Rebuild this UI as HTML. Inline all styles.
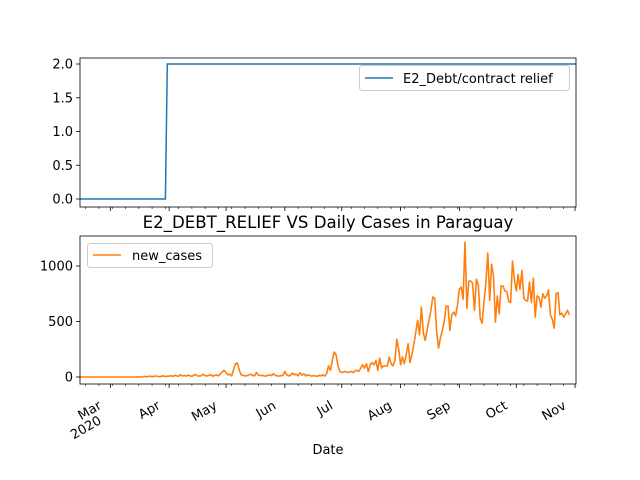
<!DOCTYPE html>
<html><head><meta charset="utf-8"><style>
body{margin:0;background:#fff}
svg{display:block;font-family:"DejaVu Sans","Liberation Sans",sans-serif}
</style></head><body>
<svg id="chart" width="640" height="480" viewBox="0 0 640 480">
<rect width="640" height="480" fill="#fff"/>
<g id="top"></g>
<g id="bot"></g>
<text x="328" y="228" text-anchor="middle" font-size="16.6">E2_DEBT_RELIEF VS Daily Cases in Paraguay</text>
<text x="328" y="454" text-anchor="middle" font-size="13">Date</text>
</svg>
<script>
// day index relative to 2020-03-01 (day 0)
const monthLabels = ["Mar","Apr","May","Jun","Jul","Aug","Sep","Oct","Nov"];
const monthDays = [0,31,61,92,122,153,184,214,245];
const policyDays = [-16,29,30,246];
const policyVals = [0,0,2,2];
const topTicks = [0,0.5,1.0,1.5,2.0];
const botTicks = [0,500,1000];
const casesStartDay = -16;
const casesFeb = [0,0,0,0,0,0,0,0,0,0,0,0,0,0,0,0,0,0,0,0,0,0,0,0,0,0,0,0,0,0,1,2,0,3,5,2,4,8,3,6,9,5,2,7,10,4,6];
const casesApr = [8,12,5,15,10,6,20,9,14,7,18,11,5,16,22,10,8,13,25,12,9,15,20,6,14,18,10,30,45,60];
const casesMay = [40,20,25,10,70,120,125,60,20,15,10,12,18,25,15,10,40,20,12,15,10,8,15,20,12,30,15,10,8,12,15];
const casesJun = [50,20,10,15,35,20,25,10,40,15,30,10,20,15,8,12,10,5,15,10,20,8,30,100,60,150,225,200,100,50];
const casesJul = [40,45,50,40,45,50,40,55,60,50,80,110,80,120,50,110,130,110,150,60,170,80,100,100,100,180,120,100,150,340,250];
const casesAugOn = [110,180,120,200,300,130,200,290,400,510,380,630,400,330,420,510,600,720,710,420,260,350,420,500,640,640,420,560,585,550,650,790,810,700,1215,620,865,865,845,600,880,830,530,485,675,850,1115,690,1015,910,495,730,570,820,820,775,770,680,670,1045,875,775,925,790,960,710,690,685,855,670,890,540,730,720,630,750,710,730,785,560,520,440,750,760,560,575,540,570,600,560];
const cases = [].concat(casesFeb,casesApr,casesMay,casesJun,casesJul,casesAugOn);

const NS="http://www.w3.org/2000/svg";
const X0=80,X1=576,D0=-16,D1=245.5;
const xs=d=>Math.min(X1,X0+(d-D0)*(X1-X0)/(D1-D0));
function mk(tag,attrs,parent){const e=document.createElementNS(NS,tag);for(const k in attrs)e.setAttribute(k,attrs[k]);parent.appendChild(e);return e;}

function axes(g,top,bottom,ys,ticks,fmt,showX){
  for(let i=0;i<ticks.length;i++){const t=ticks[i];const y=ys(t);
    const tk=mk('line',{x1:X0-4,x2:X0,y1:y,y2:y,stroke:'#000','stroke-width':0.8},g);
    
    
    const tl=mk('text',{x:X0-7,y:y+4.5,'text-anchor':'end','font-size':13},g);tl.textContent=fmt(t);
    
    
  }
  for(let d=-13;d<=245;d+=7){const x=xs(d);
    const m=mk('line',{x1:x,x2:x,y1:bottom,y2:bottom+2,stroke:'#000','stroke-width':0.6},g);
    
    
  }
  for(let i=0;i<monthDays.length;i++){const x=xs(monthDays[i]);
    const m=mk('line',{x1:x,x2:x,y1:bottom,y2:bottom+4,stroke:'#000','stroke-width':0.8},g);
    
    
    if(showX){
      const t=mk('text',{x:0,y:0,'text-anchor':'end','font-size':13,transform:`translate(${x-8},${bottom+24}) rotate(-30)`},g);
      t.textContent=monthLabels[i];
      
      
      if(i===0){const t2=mk('text',{x:0,y:0,'text-anchor':'end','font-size':13,transform:`translate(${x-8},${bottom+39}) rotate(-30)`},g);
        t2.textContent='2020';
        
        }
    }
  }
}

// top
const gT=document.getElementById('top');
const tTop=58,tBot=207,ysT=v=>199+(64-199)*v/2;
axes(gT,tTop,tBot,ysT,topTicks,v=>v.toFixed(1),false);
let p='';for(let i=0;i<policyDays.length;i++)p+=(i?'L':'M')+xs(policyDays[i]).toFixed(1)+','+ysT(policyVals[i]).toFixed(1);
const lT=mk('path',{d:p,fill:'none',stroke:'#1f77b4','stroke-width':1.5},gT);


const fT=mk('rect',{x:X0,y:tTop,width:X1-X0,height:tBot-tTop,fill:'none',stroke:'#000','stroke-width':0.8},gT);


const lgT=mk('g',{},gT);


mk('rect',{x:359.5,y:65.5,width:210,height:25,rx:3,fill:'#fff','fill-opacity':0.8,stroke:'#ccc'},lgT);
mk('line',{x1:365,x2:393,y1:78,y2:78,stroke:'#1f77b4','stroke-width':1.5},lgT);
mk('text',{x:403,y:83,'font-size':13},lgT).textContent='E2_Debt/contract relief';

// bottom
const gB=document.getElementById('bot');
const bTop=236,bBot=384,ysB=v=>377+(266-377)*v/1000;
axes(gB,bTop,bBot,ysB,botTicks,v=>String(v),true);
let q='';for(let i=0;i<cases.length;i++)q+=(i?'L':'M')+xs(casesStartDay+i).toFixed(1)+','+ysB(cases[i]).toFixed(1);
const lB=mk('path',{d:q,fill:'none',stroke:'#ff7f0e','stroke-width':1.6,'stroke-linejoin':'round'},gB);


const fB=mk('rect',{x:X0,y:bTop,width:X1-X0,height:bBot-bTop,fill:'none',stroke:'#000','stroke-width':0.8},gB);


const lgB=mk('g',{},gB);


mk('rect',{x:87.5,y:243.5,width:125,height:24,rx:3,fill:'#fff','fill-opacity':0.8,stroke:'#ccc'},lgB);
mk('line',{x1:93,x2:121,y1:255,y2:255,stroke:'#ff7f0e','stroke-width':1.5},lgB);
mk('text',{x:132,y:260,'font-size':13},lgB).textContent='new_cases';
</script>
</body></html>
